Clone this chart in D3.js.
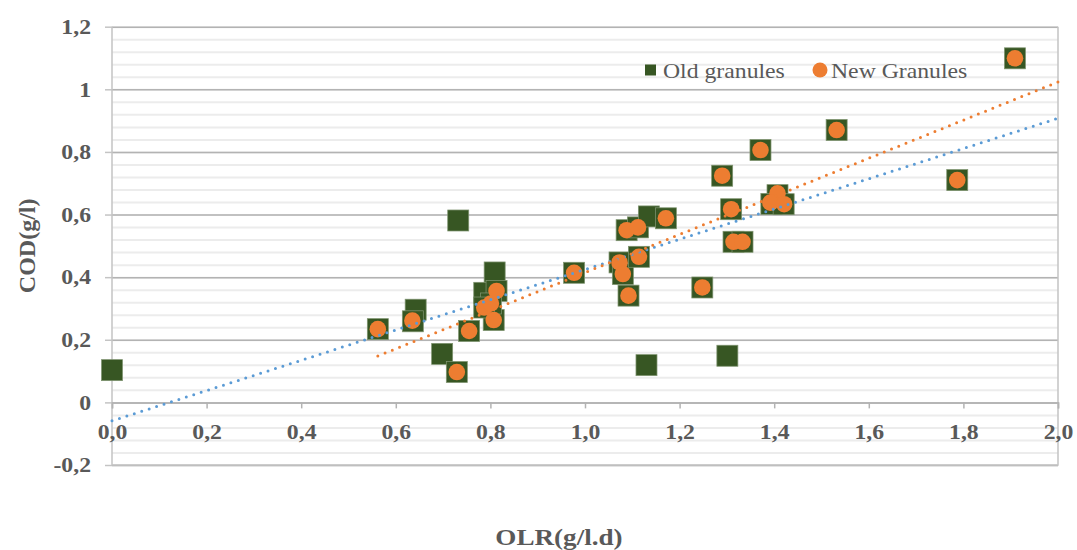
<!DOCTYPE html>
<html>
<head>
<meta charset="utf-8">
<script src="https://cdn.jsdelivr.net/npm/d3@7"></script>
<style>
  body { margin: 0; background: #fff; }
  text { font-family: "Liberation Serif", "Times New Roman", serif; fill: #595959; }
  .tick text { font-weight: bold; font-size: 21px; }
</style>
</head>
<body>
<div id="container"></div>
<script>
/* CONSTANTS AND GLOBALS */
const width = 1077,
  height = 550,
  margin = { top: 26.7, bottom: 85, left: 112, right: 19 };
const stretchX = 1.13; // the original picture is slightly wider than tall

/* DATA */
const seriesNames = ["Old granules", "New Granules"];

const oldX = [0.000, 0.732, 0.562, 0.642, 0.636, 0.698, 0.729, 0.755, 0.809, 0.787,
  0.813, 0.807, 0.801, 0.787, 0.977, 1.088, 1.112, 1.135, 1.171, 1.073,
  1.080, 1.114, 1.092, 1.130, 1.248, 1.290, 1.301, 1.309, 1.314, 1.333,
  1.371, 1.407, 1.394, 1.420, 1.532, 1.787, 1.909];
const oldY = [0.103, 0.581, 0.234, 0.296, 0.259, 0.155, 0.097, 0.228, 0.415, 0.350,
  0.356, 0.263, 0.316, 0.303, 0.414, 0.550, 0.559, 0.594, 0.588, 0.447,
  0.410, 0.465, 0.341, 0.119, 0.367, 0.724, 0.149, 0.617, 0.513, 0.513,
  0.806, 0.662, 0.634, 0.633, 0.870, 0.710, 1.099];

const newX = [0.562, 0.635, 0.729, 0.755, 0.787, 0.801, 0.813, 0.807, 0.977, 1.088,
  1.112, 1.171, 1.073, 1.080, 1.114, 1.092, 1.248, 1.290, 1.309, 1.314,
  1.333, 1.371, 1.407, 1.392, 1.421, 1.532, 1.787, 1.909];
const newY = [0.234, 0.261, 0.097, 0.228, 0.303, 0.316, 0.356, 0.263, 0.414, 0.550,
  0.559, 0.588, 0.447, 0.410, 0.465, 0.341, 0.367, 0.724, 0.617, 0.513,
  0.513, 0.806, 0.668, 0.638, 0.633, 0.870, 0.710, 1.099];

const xTicks = [0, 0.2, 0.4, 0.6, 0.8, 1.0, 1.2, 1.4, 1.6, 1.8, 2.0];
const yTicks = [-0.2, 0, 0.2, 0.4, 0.6, 0.8, 1.0, 1.2];
const yMinorTicks = d3.range(-0.2, 1.2001, 0.04);

const oldData = oldX.map((x, i) => ({ x, y: oldY[i] }));
const newData = newX.map((x, i) => ({ x, y: newY[i] }));

// SCALES
const xScale = d3.scaleLinear()
  .domain([0, 2])
  .range([margin.left, width - margin.right]);

const yScale = d3.scaleLinear()
  .domain([-0.2, 1.2])
  .range([height - margin.bottom, margin.top]);

// CREATE SVG ELEMENT
const svg = d3.select("#container")
  .append("svg")
  .attr("width", width)
  .attr("height", height);

const comma = s => s.replace(".", ",").replace("\u2212", "-");

// widen text horizontally around its anchor point
function stretch(sel) {
  sel.each(function () {
    const x = +this.getAttribute("x") || 0;
    d3.select(this).attr("transform", `translate(${x},0) scale(${stretchX},1) translate(${-x},0)`);
  });
}

// GRIDLINES
svg.append("g")
  .attr("transform", `translate(${margin.left},0)`)
  .call(d3.axisLeft(yScale).tickValues(yMinorTicks).tickSize(-(width - margin.left - margin.right)).tickFormat(""))
  .call(g => g.select(".domain").remove())
  .call(g => g.selectAll("line").attr("stroke", "#ececec").attr("stroke-width", 2));

svg.append("g")
  .attr("transform", `translate(${margin.left},0)`)
  .call(d3.axisLeft(yScale).tickValues(yTicks).tickSize(-(width - margin.left - margin.right)).tickFormat(""))
  .call(g => g.select(".domain").remove())
  .call(g => g.selectAll("line").attr("stroke", "#b3b3b3").attr("stroke-width", 1.5));

// PLOT AREA BORDER (left, bottom, right)
svg.append("path")
  .attr("d", `M${xScale(0)},${yScale(1.2)}V${yScale(-0.2)}H${xScale(2)}V${yScale(1.2)}`)
  .attr("fill", "none")
  .attr("stroke", "#c4c4c4")
  .attr("stroke-width", 1.5);

// AXES
svg.append("g")
  .attr("transform", `translate(${margin.left},0)`)
  .call(d3.axisLeft(yScale).tickValues(yTicks).tickSize(7).tickPadding(14)
    .tickFormat(d => comma(String(+d.toFixed(1)))))
  .call(g => g.select(".domain").remove())
  .call(g => g.selectAll("line").attr("stroke", "#c4c4c4").attr("stroke-width", 1.5))
  .call(g => g.selectAll("text").call(stretch));

svg.append("g")
  .attr("transform", `translate(0,${yScale(0)})`)
  .call(d3.axisBottom(xScale).tickValues(xTicks).tickSize(6).tickPadding(16)
    .tickFormat(d => comma(d.toFixed(1))))
  .call(g => g.select(".domain").attr("stroke", "#b3b3b3").attr("stroke-width", 1.5))
  .call(g => g.selectAll("line").attr("stroke", "#b3b3b3").attr("stroke-width", 1.5))
  .call(g => g.selectAll("text").call(stretch));

// AXIS TITLES
svg.append("text")
  .attr("x", 559)
  .attr("y", 545)
  .attr("text-anchor", "middle")
  .attr("font-weight", "bold")
  .attr("font-size", 24)
  .text("OLR(g/l.d)")
  .call(stretch);

svg.append("text")
  .attr("transform", `translate(35,${(yScale(1.2) + yScale(-0.2)) / 2}) rotate(-90)`)
  .attr("text-anchor", "middle")
  .attr("font-weight", "bold")
  .attr("font-size", 24)
  .text("COD(g/l)");

// MARKERS
const sq = 21;
svg.append("g")
  .selectAll("rect")
  .data(oldData)
  .join("rect")
    .attr("x", d => xScale(d.x) - sq / 2)
    .attr("y", d => yScale(d.y) - sq / 2)
    .attr("width", sq)
    .attr("height", sq)
    .attr("fill", "#375623")
    .attr("stroke", "#7f9470")
    .attr("stroke-width", 0.75);

svg.append("g")
  .selectAll("circle")
  .data(newData)
  .join("circle")
    .attr("cx", d => xScale(d.x))
    .attr("cy", d => yScale(d.y))
    .attr("r", 8.3)
    .attr("fill", "#ed7d31");

// LINEAR TRENDLINES (least squares)
function fit(data) {
  const mx = d3.mean(data, d => d.x), my = d3.mean(data, d => d.y);
  const b = d3.sum(data, d => (d.x - mx) * (d.y - my)) / d3.sum(data, d => (d.x - mx) ** 2);
  return { b, a: my - b * mx };
}

function trend(data, color) {
  const { a, b } = fit(data);
  const x0 = d3.min(data, d => d.x), x1 = 2;
  svg.append("line")
    .attr("x1", xScale(x0)).attr("y1", yScale(a + b * x0))
    .attr("x2", xScale(x1)).attr("y2", yScale(a + b * x1))
    .attr("stroke", color)
    .attr("stroke-width", 3)
    .attr("stroke-linecap", "round")
    .attr("stroke-dasharray", "0,7.8");
}
trend(oldData, "#5b9bd5");
trend(newData, "#ed7d31");

// LEGEND
const legend = svg.append("g");
legend.append("rect")
  .attr("x", 645).attr("y", 64.5).attr("width", 11).attr("height", 11)
  .attr("fill", "#375623");
legend.append("text")
  .attr("x", 663).attr("y", 78).attr("font-size", 21)
  .text(seriesNames[0])
  .call(stretch);
legend.append("circle")
  .attr("cx", 820).attr("cy", 70).attr("r", 7.5)
  .attr("fill", "#ed7d31");
legend.append("text")
  .attr("x", 831).attr("y", 78).attr("font-size", 21)
  .text(seriesNames[1])
  .call(stretch);
</script>
</body>
</html>
